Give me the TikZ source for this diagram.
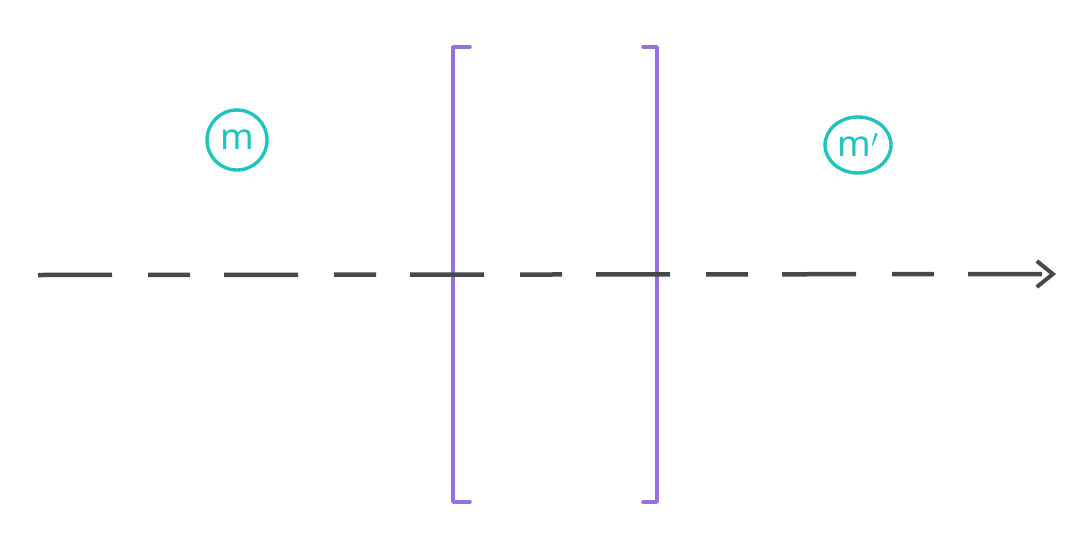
\documentclass[tikz,border=0pt]{standalone}
\usepackage{fontspec}
\setmainfont{Noto Sans}
\usetikzlibrary{arrows.meta,shapes.geometric}
\definecolor{teal1}{RGB}{32,196,188}
\definecolor{purp}{RGB}{152,112,222}
\definecolor{ink}{RGB}{70,72,74}
\tikzset{
  mlabel/.style={circle, draw=teal1, line width=3.4pt, text=teal1, inner sep=0pt, minimum size=60pt, font=\fontsize{36}{36}\selectfont},
  bracket/.style={draw=purp, line width=3.5pt, line cap=round, line join=round},
  axis/.style={draw=ink, line width=4.5pt, dash pattern=on 74pt off 36pt on 42pt off 34pt, -{Straight Barb[length=16pt,width=26pt,line width=4pt]}}
}
\begin{document}
\begin{tikzpicture}[x=1pt,y=-1pt]
\useasboundingbox (0,0) rectangle (1087,536);
\fill[white] (0,0) rectangle (1087,536);
\node[mlabel] (m) at (237,140) {m};
\node[mlabel, ellipse, minimum width=66pt, minimum height=56pt] (mp) at (858,145) {m$'$};
\draw[bracket] (470,47) -- (453,47) -- (453,502) -- (470,502);
\draw[bracket] (643,47) -- (657,47) -- (657,502) -- (643,502);
\coordinate (s) at (38,275);
\coordinate (e) at (1056,274);
\draw[axis] (s) -- (e);
\end{tikzpicture}
\end{document}
